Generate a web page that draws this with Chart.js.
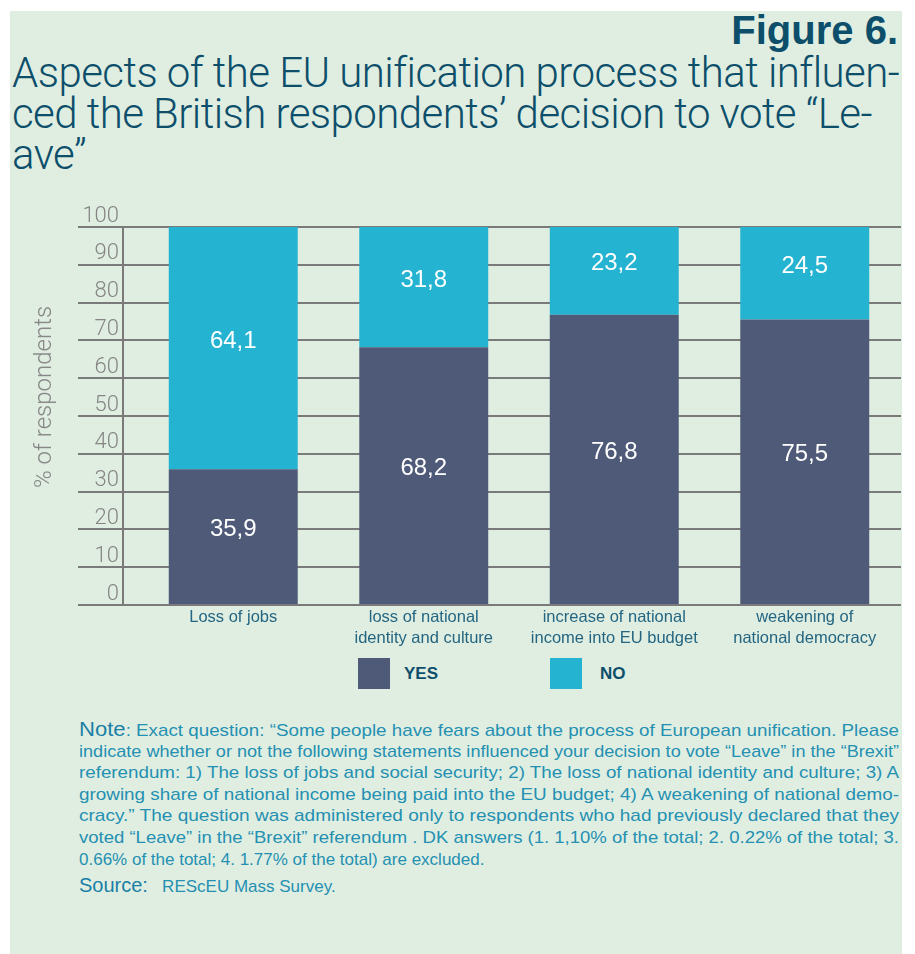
<!DOCTYPE html>
<html>
<head>
<meta charset="utf-8">
<script src="https://cdn.jsdelivr.net/npm/chart.js@4"></script>
<style>
  body { margin: 0; background: #fff; font-family: "Liberation Sans", Arial, sans-serif; }
  #page { position: relative; width: 915px; height: 954px; overflow: hidden; }
  #panel { position: absolute; left: 10px; top: 11px; width: 892px; height: 943px; background: #e0eee1; }
  .fig { position: absolute; right: 17px; top: 8px; font-size: 40px; font-weight: bold; color: #0d4f6b; }
  .title { position: absolute; left: 12px; top: 52px; font-family: Roboto, "Liberation Sans", sans-serif; font-weight: 300; font-size: 42px; line-height: 41px; color: #0d4f6b; white-space: nowrap; }
  .title span { display: block; }
  #chartBox { position: absolute; left: 0; top: 190px; width: 915px; height: 460px; }
  .ytitle { position: absolute; left: 43px; top: 397px; transform: translate(-50%, -50%) rotate(-90deg); font-family: Roboto, "Liberation Sans", sans-serif; font-weight: 300; font-size: 24px; color: #858585; white-space: nowrap; }
  .legend { position: absolute; top: 658px; font-size: 17px; font-weight: bold; color: #0d4f6b; }
  .legend span { position: absolute; top: 0; width: 32px; height: 31px; }
  .legend b { position: absolute; top: 6px; white-space: nowrap; }
  #note { position: absolute; left: 79px; top: 719px; width: 820px; font-family: "Liberation Sans Narrow", "Liberation Sans", sans-serif; font-size: 17px; line-height: 21.6px; color: #2490b2; }
  #note div { white-space: nowrap; height: 21.6px; }
  #note div span.ln { display: inline-block; transform-origin: 0 0; }
  .lbl { font-family: "Liberation Sans", sans-serif; font-size: 20px; color: #1a7fa6; }
  #source { position: absolute; left: 79px; top: 874px; font-family: "Liberation Sans Narrow", "Liberation Sans", sans-serif; font-size: 17px; color: #2490b2; white-space: nowrap; }
  #source span.ln { display: inline-block; transform-origin: 0 0; }
</style>
</head>
<body>
<div id="page">
  <div id="panel"></div>
  <div class="fig">Figure 6.</div>
  <div class="title"><span>Aspects of the EU unification process that influen-</span><span>ced the British respondents’ decision to vote “Le-</span><span>ave”</span></div>
  <div id="chartBox"><canvas id="leaveChart" width="915" height="460"></canvas></div>
  <div class="ytitle">% of respondents</div>
  <div class="legend" style="left:358px"><span style="background:#4e5a78"></span><b style="left:46px">YES</b></div>
  <div class="legend" style="left:550px"><span style="background:#25b3d2"></span><b style="left:50px">NO</b></div>
  <div id="note">
    <div><span class="ln"><span class="lbl">Note</span>: Exact question: “Some people have fears about the process of European unification. Please</span></div>
    <div><span class="ln">indicate whether or not the following statements influenced your decision to vote “Leave” in the “Brexit”</span></div>
    <div><span class="ln">referendum: 1) The loss of jobs and social security; 2) The loss of national identity and culture; 3) A</span></div>
    <div><span class="ln">growing share of national income being paid into the EU budget; 4) A weakening of national demo-</span></div>
    <div><span class="ln">cracy.” The question was administered only to respondents who had previously declared that they</span></div>
    <div><span class="ln">voted “Leave” in the “Brexit” referendum . DK answers (1. 1,10% of the total; 2. 0.22% of the total; 3.</span></div>
    <div><span class="ln last">0.66% of the total; 4. 1.77% of the total) are excluded.</span></div>
  </div>
  <div id="source"><span class="ln"><span class="lbl">Source:</span>&nbsp;&nbsp;&nbsp;REScEU Mass Survey.</span></div>
</div>
<script>
// aspects and answer shares (%)
var categories = [
    ['Loss of jobs'],
    ['loss of national', 'identity and culture'],
    ['increase of national', 'income into EU budget'],
    ['weakening of', 'national democracy']
];
var yesValues = [35.9, 68.2, 76.8, 75.5];
var noValues = [64.1, 31.8, 23.2, 24.5];
var yTicks = [0, 10, 20, 30, 40, 50, 60, 70, 80, 90, 100];

// note lines: squeeze each full line to the column width, like a condensed face
var noteLines = document.querySelectorAll('#note span.ln');
var squeeze = 1;
noteLines.forEach(function(el) {
    if (el.classList.contains('last')) return;
    squeeze = Math.min(squeeze, 820 / el.getBoundingClientRect().width);
});
noteLines.forEach(function(el) {
    if (el.classList.contains('last')) {
        el.style.transform = 'scaleX(' + squeeze + ')';
    } else {
        el.style.transform = 'scaleX(' + (820 / el.getBoundingClientRect().width) + ')';
    }
});
document.querySelector('#source span.ln').style.transform = 'scaleX(' + squeeze + ')';

// title lines: first line runs the full width
var titleLines = document.querySelectorAll('.title span');
var first = titleLines[0];
var extra = (886 - first.getBoundingClientRect().width) / first.textContent.length;
document.querySelector('.title').style.letterSpacing = extra + 'px';

// write values inside each stacked segment
var valueLabels = {
    id: 'valueLabels',
    afterDatasetsDraw: function(chart) {
        var c = chart.ctx;
        c.save();
        c.fillStyle = '#ffffff';
        c.font = '24px "Liberation Sans", Arial, sans-serif';
        c.textAlign = 'center';
        c.textBaseline = 'middle';
        chart.data.datasets.forEach(function(ds, i) {
            chart.getDatasetMeta(i).data.forEach(function(bar, j) {
                var txt = ds.data[j].toFixed(1).replace('.', ',');
                c.fillText(txt, bar.x, (bar.y + bar.base) / 2 - 7);
            });
        });
        c.restore();
    }
};

// categories start a bit right of the value axis line
var categoryInset = {
    id: 'categoryInset',
    afterLayout: function(chart) {
        var xs = chart.scales.x;
        xs.left = xs.left + 15;
        xs.right = xs.right - 1;
        xs.width = xs.right - xs.left;
        xs.configure();
    }
};

var ctx = document.getElementById('leaveChart').getContext('2d');
var leaveChart = new Chart(ctx, {
    type: 'bar',
    data: {
        labels: categories,
        datasets: [{
            label: 'YES',
            data: yesValues,
            backgroundColor: '#4e5a78',
            borderRadius: 3,
            borderSkipped: false,
            barPercentage: 0.677,
            categoryPercentage: 1
        }, {
            label: 'NO',
            data: noValues,
            backgroundColor: '#25b3d2',
            barPercentage: 0.677,
            categoryPercentage: 1
        }]
    },
    options: {
        responsive: false,
        animation: false,
        layout: { padding: { top: 37, right: 14, left: 0, bottom: 0 } },
        plugins: {
            legend: { display: false },
            tooltip: { enabled: false }
        },
        scales: {
            x: {
                stacked: true,
                grid: { display: false },
                border: { display: false },
                ticks: {
                    color: '#246682',
                    font: { size: 16.5, family: '"Liberation Sans", Arial, sans-serif', lineHeight: '21px' },
                    padding: -6,
                    maxRotation: 0
                },
                afterFit: function(scale) { scale.height = 45; }
            },
            y: {
                stacked: true,
                min: 0,
                max: 100,
                afterBuildTicks: function(scale) {
                    scale.ticks = yTicks.map(function(v) { return { value: v }; });
                },
                grid: {
                    color: '#7a7a7a',
                    lineWidth: 2,
                    tickLength: 45,
                    drawTicks: true
                },
                border: { display: true, color: '#7a7a7a', width: 2 },
                ticks: {
                    color: '#858585',
                    font: { size: 22, weight: '300', family: 'Roboto, "Liberation Sans", sans-serif' },
                    padding: -41,
                    labelOffset: -11
                },
                afterFit: function(scale) { scale.width = 123; }
            }
        }
    },
    plugins: [categoryInset, valueLabels]
});
</script>
</body>
</html>
